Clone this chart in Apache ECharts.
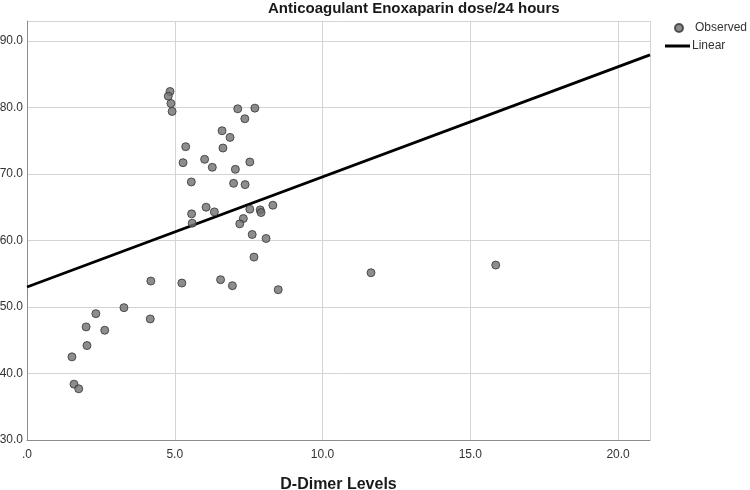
<!DOCTYPE html>
<html>
<head>
<meta charset="utf-8">
<script src="https://cdn.jsdelivr.net/npm/echarts@6/dist/echarts.min.js"></script>
<style>html,body{margin:0;padding:0;background:#fff;}#c{width:750px;height:490px;}</style>
</head>
<body>
<div id="c"></div>
<script>
// Observed points: D-Dimer level (x) and enoxaparin dose/24h (y)
const dimerX = [4.84, 4.78, 4.87, 4.91, 7.13, 7.71, 7.37, 6.60, 6.87, 5.37, 6.63, 5.28, 6.01, 6.27, 7.54, 7.05,
  5.56, 6.99, 7.38, 6.06, 5.57, 6.34, 7.54, 7.89, 7.92, 8.32, 7.32, 7.20, 5.59, 7.62, 8.09,
  7.68, 4.19, 5.24, 6.55, 6.95, 8.50,
  3.28, 2.33, 4.17, 2.00, 2.63, 2.03, 1.52, 1.59, 1.75,
  11.64, 15.86];
const doseY = [82.4, 81.7, 80.6, 79.4, 79.8, 79.9, 78.3, 76.5, 75.5, 74.1, 73.9, 71.7, 72.2, 71.0, 71.8, 70.7,
  68.8, 68.6, 68.4, 65.0, 64.0, 64.3, 64.7, 64.6, 64.2, 65.3, 63.3, 62.5, 62.6, 60.9, 60.3,
  57.5, 53.9, 53.6, 54.1, 53.2, 52.6,
  49.9, 49.0, 48.2, 47.0, 46.5, 44.2, 42.5, 38.4, 37.7,
  55.15, 56.3];
// Linear fit line endpoints (data values)
const fitX = [0, 21.08];
const fitY = [53.0, 87.9];
// Axis ranges / ticks
const xMin = 0, xMax = 21.08, xStep = 5;
const yMin = 30, yMax = 93.0, yStep = 10;

const FONT = '"Liberation Sans", Arial, sans-serif';
const observed = dimerX.map((x, i) => [x, doseY[i]]);
const fit = fitX.map((x, i) => [x, fitY[i]]);

const chart = echarts.init(document.getElementById('c'), null, {renderer: 'canvas'});
chart.setOption({
  animation: false,
  backgroundColor: '#ffffff',
  title: {
    text: 'Anticoagulant Enoxaparin dose/24 hours',
    left: 268, top: 1, padding: 0,
    textStyle: {fontFamily: FONT, fontSize: 15, fontWeight: 'bold', color: '#1a1a1a'}
  },
  legend: [
    {
      data: [{name: 'Observed', icon: 'circle'}],
      left: 674, top: 22, padding: 0, itemWidth: 8, itemHeight: 8, itemGap: 5,
      textStyle: {fontFamily: FONT, fontSize: 12, color: '#333', padding: [0, 0, 0, 7]}
    },
    {
      data: [{name: 'Linear', icon: 'rect'}],
      left: 665, top: 40, padding: 0, itemWidth: 25, itemHeight: 3, itemGap: 5,
      textStyle: {fontFamily: FONT, fontSize: 12, color: '#333', padding: [0, 0, 0, -3]}
    }
  ],
  grid: {left: 27, right: 100, top: 21, bottom: 50, containLabel: false, outerBoundsMode: 'none'},
  xAxis: {
    type: 'value', min: xMin, max: xMax, interval: xStep,
    name: 'D-Dimer Levels', nameLocation: 'middle', nameGap: 37,
    nameTextStyle: {fontFamily: FONT, fontSize: 16, fontWeight: 'bold', color: '#1a1a1a'},
    axisLine: {show: true, lineStyle: {color: '#8c8c8c', width: 1}},
    axisTick: {show: false},
    splitLine: {show: true, lineStyle: {color: '#d4d4d4', width: 1}},
    axisLabel: {
      fontFamily: FONT, fontSize: 12, color: '#333', margin: 9, showMaxLabel: false,
      formatter: v => v === 0 ? '.0' : v.toFixed(1)
    }
  },
  yAxis: {
    type: 'value', min: yMin, max: yMax, interval: yStep,
    axisLine: {show: true, lineStyle: {color: '#8c8c8c', width: 1}},
    axisTick: {show: false},
    splitLine: {show: true, lineStyle: {color: '#d4d4d4', width: 1}},
    axisLabel: {
      fontFamily: FONT, fontSize: 12, color: '#333', margin: 4, showMaxLabel: false,
      formatter: v => v.toFixed(1)
    }
  },
  series: [
    {
      name: 'Observed', type: 'scatter', data: observed, symbol: 'circle', symbolSize: 8,
      itemStyle: {color: '#707070', borderColor: '#333333', borderWidth: 1},
      z: 3
    },
    {
      name: 'Linear', type: 'line', data: fit, showSymbol: false, symbol: 'none',
      lineStyle: {color: '#000000', width: 2.8},
      itemStyle: {color: '#000000'},
      z: 2
    }
  ]
});
</script>
</body>
</html>
